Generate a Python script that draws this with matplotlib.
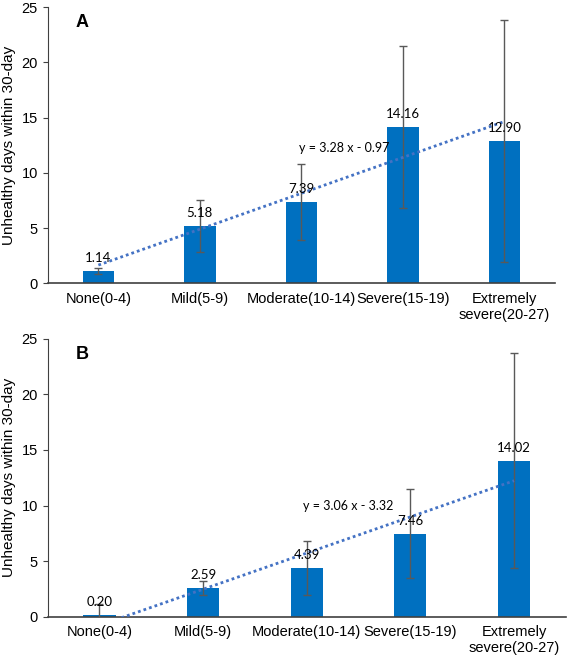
import numpy as np
import matplotlib
matplotlib.use("Agg")
import matplotlib.pyplot as plt

# data
categories = ["None(0-4)", "Mild(5-9)", "Moderate(10-14)", "Severe(15-19)", "Extremely\nsevere(20-27)"]
means_a = [1.14, 5.18, 7.39, 14.16, 12.90]
err_a = [0.25, 2.37, 3.42, 7.33, 10.92]
means_b = [0.20, 2.59, 4.39, 7.46, 14.02]
err_b = [0.94, 0.60, 2.40, 4.00, 9.67]
eq_a = "y = 3.28 x - 0.97"
eq_b = "y = 3.06 x - 3.32"
panels = ["A", "B"]

bar_color = "#0070C0"
line_color = "#4472C4"
err_color = "#595959"

plt.rcParams['font.family'] = ['Liberation Sans', 'DejaVu Sans']

fig = plt.figure(figsize=(5.67, 6.59), dpi=100)
ax_a = fig.add_axes([0.084, 0.570, 0.895, 0.419])
ax_b = fig.add_axes([0.084, 0.064, 0.914, 0.422])


def draw_panel(ax, means, errs, eq, eq_pos, letter):
    x = np.arange(len(categories))
    ax.bar(x, means, width=0.31, color=bar_color, zorder=2)
    ax.errorbar(x, means, yerr=errs, fmt='none', ecolor=err_color,
                elinewidth=1.0, capsize=3, capthick=1.0, zorder=3)
    # linear trend line (fit on 1..5 like excel)
    k, b = np.polyfit(x + 1, means, 1)
    ax.plot(x, k * (x + 1) + b, linestyle=(0, (1, 1.1)), color=line_color,
            linewidth=2, zorder=4)
    for xi, m in zip(x, means):
        ax.annotate(f"{m:.2f}", (xi, m), xytext=(0, 5), textcoords='offset points',
                    ha='center', va='bottom', fontsize=9.5, family='Lato', zorder=5)
    ax.text(eq_pos[0], eq_pos[1], eq, ha='center', va='center', fontsize=9,
            family='Lato')
    ax.text(0.055, 0.945, letter, transform=ax.transAxes, fontsize=13,
            fontweight='bold', ha='left', va='center')

    ax.set_xlim(-0.5, len(categories) - 0.5)
    ax.set_ylim(0, 25)
    ax.set_yticks([0, 5, 10, 15, 20, 25])
    ax.set_xticks(x)
    ax.set_xticklabels(categories, fontsize=10.5)
    ax.tick_params(axis='x', length=0, pad=6)
    ax.tick_params(axis='y', labelsize=10.5, length=3.5, color='#404040')
    ax.spines['top'].set_visible(False)
    ax.spines['right'].set_visible(False)
    ax.spines['left'].set_color('#404040')
    ax.spines['bottom'].set_color('#404040')
    ax.spines['bottom'].set_linewidth(1.2)
    ax.set_ylabel("Unhealthy days within 30-day", fontsize=11, labelpad=4)


draw_panel(ax_a, means_a, err_a, eq_a, (2.42, 12.25), panels[0])
draw_panel(ax_b, means_b, err_b, eq_b, (2.40, 10.0), panels[1])

fig.savefig("out.png", dpi=100)
